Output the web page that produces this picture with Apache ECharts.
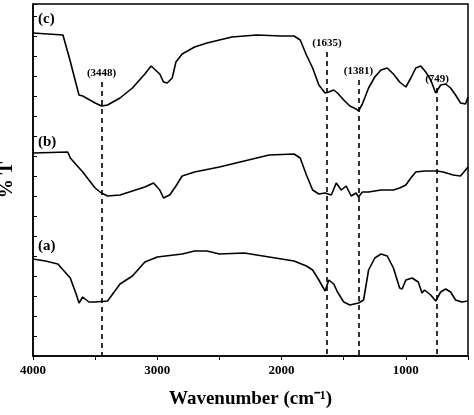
<!DOCTYPE html><html><head><meta charset="utf-8">
<script src="https://cdn.jsdelivr.net/npm/echarts@6/dist/echarts.min.js"></script>
<style>html,body{margin:0;padding:0;background:#fff}#c{width:474px;height:415px}</style></head><body><div id="c"></div>
<script>
const wnC=[4000,3759,3703,3630,3600,3500,3448,3400,3300,3200,3100,3050,2980,2950,2920,2880,2850,2800,2700,2600,2500,2400,2200,2000,1900,1850,1800,1750,1700,1650,1620,1580,1550,1500,1450,1400,1381,1350,1300,1250,1200,1150,1100,1050,1000,960,920,880,840,800,760,720,680,640,600,560,520,500];
const tC=[323,321,296,261,260,253,250,251,258,268,282,290,282,274,273,278,294,302,309,313,316,319,321,320,320,316,301,288,271,263,264,266,263,256,250,247,245,252,268,279,286,288,282,274,269,278,288,290,284,276,263,271,272,268,261,253,252,259];
const wnB=[4000,3720,3700,3600,3500,3450,3400,3300,3200,3100,3030,2980,2950,2900,2850,2800,2700,2500,2300,2100,1900,1850,1800,1750,1700,1650,1600,1560,1520,1480,1440,1400,1381,1350,1300,1200,1100,1050,1000,960,920,850,749,700,620,560,520,500];
const tB=[203,204,198,184,168,163,160,161,165,169,173,166,158,161,170,180,184,189,195,201,202,198,181,166,162,163,161,173,166,170,160,163,159,164,164,166,166,168,171,178,184,185,185,184,181,180,186,189];
const wnA=[4000,3900,3800,3700,3650,3630,3600,3550,3500,3400,3300,3200,3100,3000,2800,2700,2600,2500,2300,2100,2000,1900,1800,1750,1700,1650,1620,1580,1550,1500,1450,1381,1340,1300,1250,1200,1150,1100,1050,1030,1000,950,900,870,850,800,760,720,680,640,600,550,500];
const tA=[97,95,92,78,61,53,59,54,54,55,72,80,94,99,102,105,105,102,103,99,97,95,90,86,76,65,76,72,64,54,51,53,56,86,98,102,100,88,68,67,76,78,74,63,66,61,55,64,67,64,56,54,55];
const peaks=[3448,1635,1381,749];
const peakTops=[274,304,276,268];
const xTicks=[4000,3000,2000,1000];
const F='Liberation Serif';
const ch=echarts.init(document.getElementById('c'));
function ser(w,t,ml){const s={type:'line',data:w.map((x,i)=>[x,t[i]]),showSymbol:false,lineStyle:{color:'#000',width:1.6},silent:true};
 if(ml){s.markLine={symbol:'none',silent:true,lineStyle:{color:'#000',type:[5,4],width:1.6},
  label:{position:'start',color:'#000',fontFamily:F,fontWeight:'bold',fontSize:11,formatter:p=>'('+p.data.n+')',distance:3},
  data:peaks.map((p,i)=>[{coord:[p,peakTops[i]],n:p},{coord:[p,0]}])};}
 return s;}
ch.setOption({animation:false,
grid:{left:33,right:6,top:4,bottom:59,show:true,borderColor:'#000',borderWidth:1.5,outerBoundsMode:'none',containLabel:false},
xAxis:{type:'value',inverse:true,min:500,max:4000,interval:500,
 name:'Wavenumber (cm⁻¹)',nameLocation:'middle',nameGap:34,nameTextStyle:{fontFamily:F,fontWeight:'bold',fontSize:19,color:'#000'},
 axisLine:{lineStyle:{color:'#000',width:1.5}},axisTick:{inside:false,length:4,lineStyle:{color:'#000'}},splitLine:{show:false},
 axisLabel:{fontFamily:F,fontWeight:'bold',fontSize:13,color:'#000',margin:8,formatter:v=>xTicks.includes(v)?v:''}},
yAxis:{type:'value',min:0,max:352,interval:20,name:'% T',nameLocation:'middle',nameGap:16,nameRotate:90,
 nameTextStyle:{fontFamily:F,fontWeight:'bold',fontSize:19,color:'#000'},
 axisLine:{lineStyle:{color:'#000',width:1.5}},axisTick:{inside:true,length:4,lineStyle:{color:'#000'}},axisLabel:{show:false},splitLine:{show:false}},
graphic:[
 {type:'text',left:38,top:12,style:{text:'(c)',font:'bold 15px "Liberation Serif"',fill:'#000'}},
 {type:'text',left:38,top:135,style:{text:'(b)',font:'bold 15px "Liberation Serif"',fill:'#000'}},
 {type:'text',left:38,top:239,style:{text:'(a)',font:'bold 15px "Liberation Serif"',fill:'#000'}}],
series:[ser(wnC,tC,true),ser(wnB,tB,false),ser(wnA,tA,false)]});
</script></body></html>
